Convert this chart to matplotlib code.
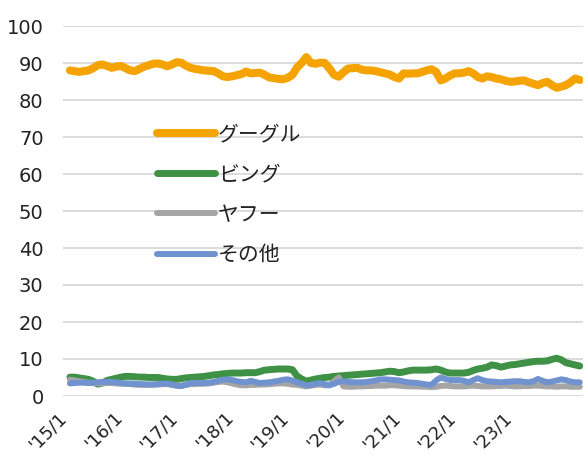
import matplotlib
matplotlib.use("Agg")
import matplotlib.pyplot as plt
import numpy as np

# monthly search engine share (%), 2015/1 .. 2024/3
google = [
    88.0, 87.8, 87.6, 87.8, 88.0, 88.6, 89.4, 89.6, 89.2, 88.7, 89.0, 89.2,
    88.6, 88.0, 87.8, 88.4, 89.0, 89.4, 89.8, 89.9, 89.6, 89.1, 89.6, 90.2,
    90.1, 89.3, 88.7, 88.4, 88.2, 88.0, 87.9, 87.8, 87.2, 86.4, 86.2, 86.4,
    86.7, 87.0, 87.7, 87.2, 87.3, 87.4, 86.8, 86.1, 85.9, 85.7, 85.6, 86.0,
    86.8, 88.8, 90.0, 91.6, 90.0, 89.8, 90.1, 90.0, 88.5, 86.8, 86.3, 87.5,
    88.5, 88.6, 88.7, 88.2, 88.0, 88.0, 87.8, 87.5, 87.2, 86.9, 86.2, 85.8,
    87.2, 87.1, 87.2, 87.2, 87.6, 88.0, 88.3, 87.6, 85.3, 85.8, 86.6, 87.2,
    87.2, 87.4, 87.8, 87.2, 86.2, 85.8, 86.4, 86.2, 85.8, 85.6, 85.2, 84.9,
    85.0, 85.2, 85.3, 84.8, 84.4, 84.0, 84.6, 84.9, 84.0, 83.3, 83.6, 84.0,
    84.8, 85.8, 85.4,
]
bing = [
    5.1, 5.1, 4.9, 4.7, 4.5, 4.0, 3.2, 3.5, 4.2, 4.5, 4.8, 5.1,
    5.3, 5.3, 5.2, 5.1, 5.1, 5.0, 5.0, 5.0, 4.8, 4.6, 4.5, 4.5,
    4.7, 4.9, 5.0, 5.1, 5.2, 5.3, 5.5, 5.7, 5.8, 6.0, 6.1, 6.2,
    6.2, 6.2, 6.3, 6.3, 6.3, 6.6, 7.0, 7.1, 7.2, 7.3, 7.3, 7.3,
    7.1, 5.4, 4.6, 4.0, 4.3, 4.6, 4.8, 5.0, 5.1, 5.3, 5.4, 5.5,
    5.6, 5.7, 5.8, 5.9, 6.0, 6.1, 6.2, 6.3, 6.5, 6.7, 6.6, 6.3,
    6.5, 6.8, 7.0, 7.0, 7.0, 7.0, 7.1, 7.3, 7.0, 6.5, 6.2, 6.2,
    6.2, 6.2, 6.4, 6.9, 7.3, 7.5, 7.8, 8.4, 8.2, 7.8, 8.1, 8.4,
    8.5, 8.7, 8.9, 9.1, 9.3, 9.4, 9.4, 9.5, 9.9, 10.2, 9.8, 9.0,
    8.7, 8.4, 8.1,
]
yahoo = [
    4.4, 4.2, 4.0, 3.8, 3.6, 3.5, 3.4, 3.4, 3.5, 3.5, 3.4, 3.3,
    3.3, 3.2, 3.1, 3.0, 3.0, 3.0, 3.1, 3.1, 3.2, 3.2, 3.0, 2.8,
    2.8, 3.0, 3.2, 3.2, 3.3, 3.3, 3.4, 3.6, 3.8, 3.9, 3.7, 3.4,
    3.1, 2.9, 2.9, 3.0, 3.0, 3.1, 3.1, 3.2, 3.3, 3.4, 3.4, 3.3,
    3.1, 3.0, 2.8, 2.6, 2.8, 3.0, 3.1, 2.9, 2.9, 4.0, 5.0, 2.6,
    2.5, 2.5, 2.6, 2.6, 2.7, 2.7, 2.8, 2.8, 2.8, 2.9, 2.9, 2.8,
    2.7, 2.6, 2.6, 2.6, 2.5, 2.5, 2.4, 2.5, 2.7, 2.8, 2.7, 2.6,
    2.6, 2.6, 2.7, 2.8, 2.7, 2.6, 2.6, 2.6, 2.7, 2.7, 2.8, 2.7,
    2.6, 2.6, 2.7, 2.7, 2.8, 2.8, 2.7, 2.6, 2.6, 2.5, 2.6, 2.6,
    2.5, 2.5, 2.5,
]
other = [
    3.4, 3.5, 3.6, 3.6, 3.5, 3.6, 3.7, 3.8, 3.8, 3.8, 3.7, 3.5,
    3.4, 3.4, 3.3, 3.2, 3.2, 3.1, 3.1, 3.2, 3.3, 3.4, 3.1, 2.8,
    2.7, 3.0, 3.5, 3.5, 3.5, 3.5, 3.6, 3.8, 4.1, 4.4, 4.5, 4.3,
    4.0, 3.8, 3.7, 4.1, 3.8, 3.5, 3.6, 3.7, 3.9, 4.1, 4.4, 4.5,
    4.2, 3.7, 3.3, 2.9, 3.0, 3.3, 3.5, 3.2, 2.9, 3.3, 3.9, 4.0,
    3.8, 3.7, 3.7, 3.7, 3.8, 4.0, 4.2, 4.5, 4.5, 4.4, 4.3, 4.2,
    3.9, 3.7, 3.6, 3.5, 3.3, 3.1, 3.0, 4.2, 5.0, 4.6, 4.3, 4.3,
    4.3, 4.1, 3.7, 4.3, 4.8, 4.3, 4.0, 3.9, 3.8, 3.7, 3.8, 3.9,
    4.0, 4.0, 3.8, 3.7, 4.0, 4.6, 4.1, 3.7, 3.9, 4.2, 4.5, 4.3,
    3.9, 3.7, 3.7,
]

series_names = ["グーグル", "ビング", "ヤフー", "その他"]
tick_labels = ["'15/1", "'16/1", "'17/1", "'18/1", "'19/1",
               "'20/1", "'21/1", "'22/1", "'23/1"]

colors = ["#F5A300", "#3F9146", "#A5A5A5", "#7092CF"]
widths = [5.8, 5.0, 4.3, 4.3]

plt.rcParams["font.family"] = ["DejaVu Sans", "Noto Sans CJK JP"]

fig = plt.figure(figsize=(5.84, 4.61), dpi=100)
ax = fig.add_axes([63 / 584, 1 - 396 / 461, 520 / 584, 370 / 461])

x = np.arange(len(google))
for vals, name, c, lw in zip([google, bing, yahoo, other], series_names, colors, widths):
    ax.plot(x, vals, color=c, lw=lw, label=name, solid_capstyle="round",
            solid_joinstyle="round")

ax.set_ylim(0, 100)
ax.set_xlim(-1.5, len(google) - 0.3)
ax.set_yticks(range(0, 101, 10))
ax.set_xticks(range(0, 12 * len(tick_labels), 12))
ax.set_xticklabels(tick_labels, rotation=45, ha="right")
ax.tick_params(axis="both", length=0, colors="#222222")
ax.tick_params(axis="x", pad=9, labelsize=13)
ax.tick_params(axis="y", pad=14, labelsize=14)
ax.grid(axis="y", color="#D9D9D9", lw=1.3)
ax.set_axisbelow(True)
for s in ax.spines.values():
    s.set_visible(False)

leg = ax.legend(loc="upper left", bbox_to_anchor=(157 / 584, 1 - 123 / 461),
                bbox_transform=fig.transFigure, frameon=False,
                prop={"family": ["Noto Sans CJK JP"], "size": 15},
                handlelength=2.8, handletextpad=0.12, labelspacing=0.88,
                borderpad=0, borderaxespad=0)
for t in leg.get_texts():
    t.set_color("#222222")

fig.savefig("out.png", dpi=100)
